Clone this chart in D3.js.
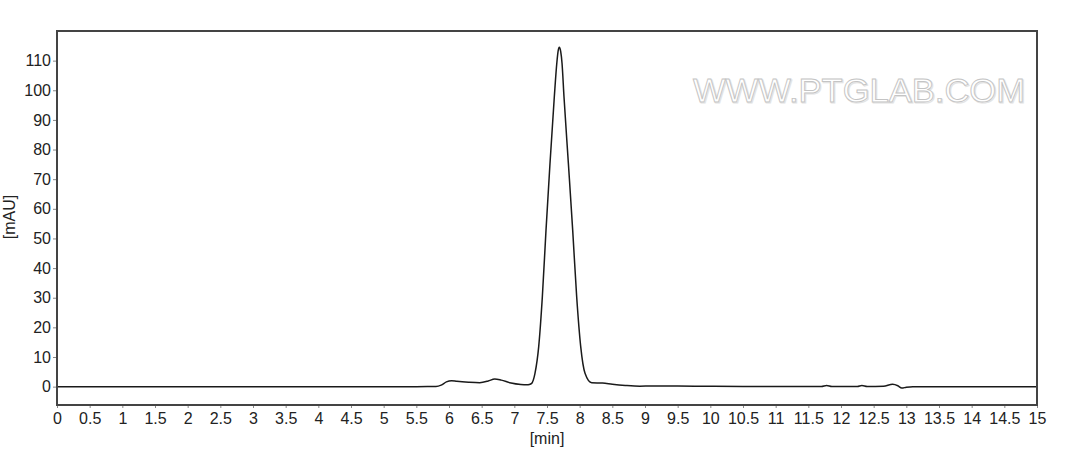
<!DOCTYPE html>
<html>
<head>
<meta charset="utf-8">
<script src="https://cdn.jsdelivr.net/npm/d3@7"></script>
<style>
  html, body { margin: 0; padding: 0; background: #fff; }
  svg { display: block; }
</style>
</head>
<body>
<svg id="chart" width="1072" height="451"></svg>
<script>
// Retention time (min) and absorbance (mAU)
const times = [
  0, 5.5, 5.8, 5.88, 5.96, 6.04, 6.12, 6.3, 6.47, 6.6, 6.7, 6.8, 6.95, 7.1, 7.19, 7.23,
  7.265, 7.316, 7.373, 7.429, 7.485, 7.546, 7.612, 7.65, 7.67, 7.689, 7.71, 7.73, 7.76,
  7.827, 7.893, 7.954, 8.016, 8.082, 8.184, 8.35, 8.5, 8.7, 8.92, 9.1, 9.5, 10, 10.5,
  11.7, 11.78, 11.86, 12.25, 12.32, 12.4, 12.65, 12.79, 12.87, 12.93, 13.0, 13.1, 15
];
const signal = [
  0, 0, 0.05, 0.5, 1.6, 2.0, 1.8, 1.5, 1.35, 1.9, 2.6, 2.2, 1.2, 0.7, 0.6, 0.7,
  1.1, 4.5, 13.5, 30.4, 52.9, 75.4, 97.8, 109.1, 113.2, 114.5, 113.0, 109.1, 97.8,
  75.4, 52.9, 30.4, 13.5, 4.5, 1.3, 1.2, 0.8, 0.4, 0.15, 0.25, 0.2, 0.1, 0.05,
  0.05, 0.4, 0.05, 0.05, 0.4, 0.05, 0.15, 0.8, 0.3, -0.5, -0.2, 0, 0
];
const xTicks = d3.range(0, 15.01, 0.5);
const yTicks = [0, 10, 20, 30, 40, 50, 60, 70, 80, 90, 100, 110];
const xLabel = "[min]";
const yLabel = "[mAU]";
const watermark = "WWW.PTGLAB.COM";

const svg = d3.select("#chart");
const m = { left: 57, right: 1037, top: 31, bottom: 405 };

const x = d3.scaleLinear().domain([0, 15]).range([m.left, m.right]);
const y = d3.scaleLinear().domain([-6.2, 120]).range([m.bottom, m.top]);

const font = "'Liberation Sans', Arial, sans-serif";

// watermark (embossed look)
const wm = svg.append("g");
wm.append("text")
  .attr("x", 694).attr("y", 103)
  .attr("textLength", 332).attr("lengthAdjust", "spacingAndGlyphs")
  .attr("font-family", font).attr("font-size", 33)
  .attr("fill", "none").attr("stroke", "#e4e4e4").attr("stroke-width", 1.2)
  .text(watermark);
wm.append("text")
  .attr("x", 693).attr("y", 102)
  .attr("textLength", 332).attr("lengthAdjust", "spacingAndGlyphs")
  .attr("font-family", font).attr("font-size", 33)
  .attr("fill", "#fff").attr("stroke", "#c4c4c4").attr("stroke-width", 0.9)
  .text(watermark);

// data line
const pts = times.map((t, i) => [t, signal[i]]);
svg.append("path")
  .datum(pts)
  .attr("fill", "none")
  .attr("stroke", "#1a1a1a")
  .attr("stroke-width", 1.5)
  .attr("d", d3.line().x(d => x(d[0])).y(d => y(d[1])).curve(d3.curveMonotoneX));

// axes
const xAxis = svg.append("g")
  .attr("transform", `translate(0,${m.bottom})`)
  .call(d3.axisBottom(x).tickValues(xTicks).tickSize(3).tickPadding(5)
    .tickFormat(d => d3.format("")(+d.toFixed(1))));
const yAxis = svg.append("g")
  .attr("transform", `translate(${m.left},0)`)
  .call(d3.axisLeft(y).tickValues(yTicks).tickSize(4).tickPadding(2));

[xAxis, yAxis].forEach(g => {
  g.select(".domain").remove();
  g.selectAll(".tick line").attr("stroke", "#888");
  g.selectAll("text").attr("font-family", font).attr("font-size", 16).attr("fill", "#222");
});

// frame
svg.append("rect")
  .attr("x", m.left).attr("y", m.top)
  .attr("width", m.right - m.left).attr("height", m.bottom - m.top)
  .attr("fill", "none").attr("stroke", "#444").attr("stroke-width", 2);

// labels
svg.append("text")
  .attr("x", (m.left + m.right) / 2 + 0).attr("y", 444)
  .attr("text-anchor", "middle")
  .attr("font-family", font).attr("font-size", 16).attr("fill", "#222")
  .text(xLabel);
svg.append("text")
  .attr("transform", "translate(15,217) rotate(-90)")
  .attr("text-anchor", "middle")
  .attr("font-family", font).attr("font-size", 16).attr("fill", "#222")
  .text(yLabel);
</script>
</body>
</html>
